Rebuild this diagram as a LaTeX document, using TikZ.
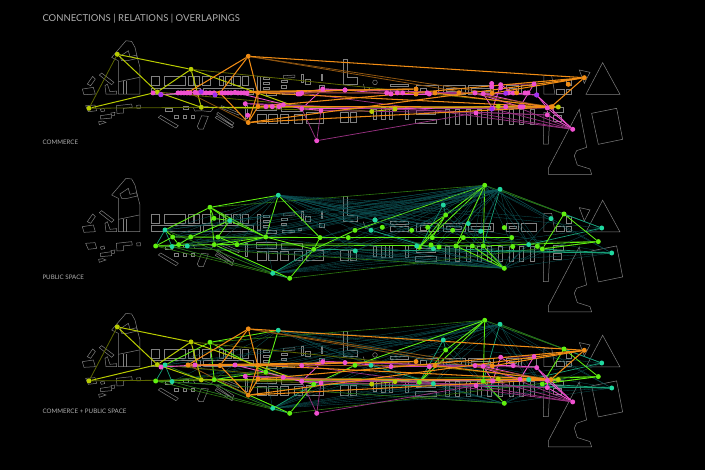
\documentclass[tikz,border=0pt]{standalone}
\usepackage{fontspec}
\setmainfont{Lato}
\usepackage{tikz}
\usetikzlibrary{backgrounds}
\definecolor{planc}{HTML}{808080}
\definecolor{labelc}{HTML}{B0B0B0}
\definecolor{limec}{HTML}{B9CC00}
\definecolor{limedim}{HTML}{5C6600}
\definecolor{orangec}{HTML}{F08C14}
\definecolor{orangedim}{HTML}{8F5510}
\definecolor{magentac}{HTML}{F050D0}
\definecolor{magentadim}{HTML}{96307F}
\definecolor{purplec}{HTML}{A030F0}
\definecolor{greenc}{HTML}{60F010}
\definecolor{greendim}{HTML}{2E7A10}
\definecolor{tealc}{HTML}{20D8A0}
\definecolor{meshc}{HTML}{0D5558}
\tikzset{
  every picture/.style={line join=round, line cap=round},
  planline/.style={draw=planc,line width=0.5pt},
  dotbase/.style={circle,inner sep=0pt,minimum size=5pt},
  limedot/.style={dotbase,fill=limec},
  orangedot/.style={dotbase,fill=orangec},
  magentadot/.style={dotbase,fill=magentac},
  purpledot/.style={dotbase,fill=purplec},
  greendot/.style={dotbase,fill=greenc},
  tealdot/.style={dotbase,fill=tealc},
  limeline/.style={draw=limec,line width=1pt},
  limefaint/.style={draw=limedim,line width=0.8pt},
  orangeline/.style={draw=orangec,line width=1.05pt},
  orangefaint/.style={draw=orangedim,line width=0.8pt},
  magentaline/.style={draw=magentac,line width=0.85pt},
  magentafaint/.style={draw=magentadim,line width=0.75pt},
  greenline/.style={draw=greenc,line width=0.85pt},
  greenfaint/.style={draw=greendim,line width=0.6pt},
  tealline/.style={draw=tealc!75!black,line width=0.7pt},
  meshline/.style={draw=meshc,line width=0.3pt},
  panellabel/.style={anchor=west,text=labelc,font=\fontsize{6.2}{7}\selectfont,inner sep=0pt},
}
\newcommand{\siteplan}{%
\begin{scope}[on background layer,shift={(20,32.4)},x=0.3333pt,y=-0.3333pt]
\draw[planline] (295,185)--(295,85)--(275,75)--(318,25)--(335,27)--(345,45)--(352,75)--(360,105)--(360,185)--cycle;
\draw[planline] (295,148)--(358,135);
\draw[planline] (310,185)--(310,147) (318,185)--(318,146);
\draw[planline] (300,72)--(325,55)--(330,73)--(350,68)--(352,78)--(322,85)--(305,85)--cycle;
\draw[planline] (202,155)--(218,132)--(226,140)--(212,160)--cycle;
\draw[planline] (187,170)--(220,165)--(226,185)--(192,187)--cycle;
\draw[planline] (238,128)--(245,122)--(282,150)--(275,157)--cycle;
\draw[planline] (255,160)--(262,155)--(270,178)--(290,176)--(290,185)--(258,185)--cycle;
\draw[planline] (197,220)--(225,218)--(230,235)--(205,238)--cycle;
\draw[planline] (241,231)--(252,228)--(254,236)--(244,238)--cycle;
\draw[planline] (241,250)--(275,245)--(275,257)--(242,260)--cycle (272,242)--(285,240)--(283,250)--(274,250);
\draw[planline] (236,268)--(248,266)--(258,270)--(246,274)--(238,277)--cycle;
\draw[planline] (289,220)--(335,215)--(337,225)--(310,228)--(310,242)--(291,243)--cycle;
\draw[planline] (350,219)--(361,218)--(361,228)--(351,228)--cycle;
\foreach \a/\b/\c/\d in {393/132/417/160,433/132/497/160,505/132/520/160,522/132/537/160,548/132/572/160,597/132/610/160,615/132/635/160,640/132/660/160,668/132/686/160,395/167/540/185,550/167/700/185,712/132/720/180,730/135/748/142,730/150/748/157,730/165/748/171,785/145/802/151,785/160/800/167,787/180/822/186,740/180/770/190,845/125/850/150,855/140/870/155,835/175/845/182,905/125/907/145,898/160/912/172,436/228/458/238,675/220/683/258,710/217/770/235,785/220/848/237,712/245/738/272,745/245/772/272,780/245/805/272,823/245/848/272,858/240/910/272,490/222/506/232,464/250/474/259,490/250/500/259,514/250/524/259}
  \draw[planline] (\a,\b) rectangle (\c,\d);
\draw[planline] (790,130)--(825,128)--(825,135)--(790,138)--cycle;
\draw[planline] (415,255)--(422,249)--(475,280)--(468,287)--cycle;
\draw[planline] (532,282)--(545,250)--(565,252)--(550,290)--(537,290)--cycle;
\draw[planline] (590,245)--(594,240)--(642,272)--(637,278)--cycle (586,256)--(590,251)--(640,282)--(636,287)--cycle;
\draw[planline] (605,220)--(660,243)--(656,248)--(602,226)--cycle;
\draw[planline] (520,226)--(560,222)--(580,228)--(572,238)--(545,235)--(525,236)--cycle;
\end{scope}
\begin{scope}[on background layer,shift={(340,32.4)},x=0.3333pt,y=-0.3333pt]
\draw[planline] (10,80)--(22,80)--(22,135)--(52,135)--(52,155)--(10,155)--cycle;
\draw[planline] (105,150) circle[radius=7];
\draw[planline] (70,155)--(76,175)--(90,168);
\foreach \a/\b/\c/\d in {150/155/205/162,150/170/205/185,228/160/295/185,240/167/260/180,310/160/375/185,320/168/365/178,385/160/460/185,395/168/450/178,500/160/535/185,508/168/528/176,545/160/590/185,650/170/672/185,680/140/695/160,680/170/695/185,0/240/25/270,30/240/50/270,100/230/110/260,125/225/135/262,148/225/158/262,195/225/205/262,225/260/290/273,230/235/285/247,640/225/670/240,640/250/665/268}
  \draw[planline] (\a,\b) rectangle (\c,\d);
\foreach \x in {315,347,379,411,443,475,507,539,571}
  \draw[planline] (\x,230) rectangle ++(12,45);
\draw[planline] (612,130)--(635,130)--(645,185)--(612,185)--cycle;
\draw[planline] (612,240)--(630,240)--(625,335)--(610,335)--cycle;
\end{scope}
\begin{scope}[on background layer,shift={(340,40)},x=0.3333pt,y=-0.3333pt]
\draw[planline] (788,68)--(840,163)--(738,163)--cycle;
\draw[planline] (718,90)--(750,97)--(733,130)--cycle;
\draw[planline] (718,208)--(740,322)--(710,332)--(703,347)--(712,375)--(750,387)--(755,403)--(625,403)--(625,385)--cycle;
\draw[planline] (755,220)--(830,205)--(848,298)--(775,313)--cycle;
\end{scope}}
\newcommand{\commercehubs}{%
\foreach \n/\x/\y in {l1/117.3/54.3,l2/191/69.3,l3/157.3/92,l4/89/108.3,l5/201.3/107.3,l6/371.7/111.5,l7/395/109,l8/498.3/106.4,l9/558.3/107}
  \node[limedot] (\n) at (\x,\y) {};
\foreach \n/\x/\y in {o1/248.3/56.3,o2/248.3/122.5,o3/257.7/92.7,o4/258/106.5,o5/188/92.4,o6/220/93,o7/584.3/77.7,o8/416/89,o9/435/93,o10/492.3/93.3,o11/551/107}
  \node[orangedot] (\n) at (\x,\y) {};
\foreach \n/\x/\y in {m1/161/94.5,m2/195/92.4,m3/235/92.4,m4/245.3/103.7,m5/283.3/104.7,m6/301.7/108.7,m7/301.7/93,m8/321/110.4,m9/316.7/140.7,m10/322.7/89,m11/345/90,m12/391/94,m13/429.3/94,m14/475/93,m15/483.3/93.7,m16/500.7/84.7,m17/513.3/93,m18/534/84,m19/536.7/95,m20/476/113,m21/492.7/108.4,m22/520/106.7,m23/547.3/108,m24/547.3/115,m25/572.7/129.3}
  \node[magentadot] (\n) at (\x,\y) {};
\begin{scope}[on background layer]
\foreach \a/\b in {l1/l4,l4/l5,l2/l9,l5/l6,l3/l6}
  \draw[limefaint] (\a)--(\b);
\foreach \a/\b in {l1/l3,l1/l2,l4/l3,l3/l2,l2/l5,l3/l5,l5/l9,l2/m6,l6/l7,l7/l8,l8/l9}
  \draw[limeline] (\a)--(\b);
\foreach \a/\b in {m1/m2,m2/m3,m3/m7,m7/m11,m11/m12,m12/m13,m13/m14,m14/m17,m17/m19,m4/m5,m5/m6,m6/m8,m6/m10,m7/m10,m10/m11,m3/m6,m15/m23,m15/m21,m16/m21,m25/m23,m25/m24,m25/m19,m23/m24,m19/m23,m16/m17,m18/m22,m14/m22,m6/m23,m10/m15}
  \draw[magentaline] (\a)--(\b);
\foreach \a/\b in {m6/m9,m8/m9,m9/m20,m25/m15,m25/m20,m25/m21,m5/m24,m8/m20,m3/m15,m11/m19,m4/m24,m7/m25,m16/m18}
  \draw[magentafaint] (\a)--(\b);
\foreach \a/\b in {o1/o10,o1/o11,o5/o2,o3/o9}
  \draw[orangefaint] (\a)--(\b);
\foreach \a/\b in {o1/o3,o1/o6,o1/o5,o1/o7,o5/o3,o6/o2,o3/o2,o3/o4,o4/o2,o2/o7,o2/o11,o4/o11,o6/o8,o5/o8,o9/o11,o10/o7,o11/o7,o4/o7,o3/o11}
  \draw[orangeline] (\a)--(\b);
\end{scope}}
\newcommand{\commerceextra}{%
\foreach \x [count=\i] in {153,178,181,184,187,190,198,203,206,210,214,222,225,228,231,238,241,244,247,386.7,397.3,402.7,427.3,508.3,525,528}
  \node[magentadot] (mr\i) at (\x,92.9) {};
\foreach \i/\x/\y in {1/272.3/106.7,2/300/94,3/247.7/115.3,4/491.7/86.7,5/491.7/83.5,6/500.7/88,7/505.7/106.7,8/345/90,9/298/94,10/266/106.7,11/279/106.7,12/523/106.7}
  \node[magentadot] (mx\i) at (\x,\y) {};
\foreach \i/\x/\y in {1/160.7/94.7,2/215/95,3/201/91.7,4/505.7/93.3,5/536.7/95,6/491.7/109}
  \node[purpledot] (px\i) at (\x,\y) {};
\foreach \i/\x/\y in {1/416/94,2/459/92.7,3/516.7/92.7,4/568.3/84.3,5/552.3/106.7}
  \node[orangedot] (ox\i) at (\x,\y) {};
}
\newcommand{\publichubs}{%
\foreach \n/\x/\y in {g1/210/69.7,g3/155.7/108.4,g8/214.3/107,g10/265.7/99.4,g12/313.7/111.7,g13/289.7/140.7,g14/484.7/47.7,g15/445.7/77.4,g16/564/76.4,g17/355/92.7,g29/483.3/108.4,g32/542.3/111.4,g33/598.3/104,g34/504.3/130.7,g35/419.3/109.7}
  \node[greendot] (\n) at (\x,\y) {};
\foreach \n/\x/\y in {t1/278.3/57.7,t3/165/92.4,t4/172/109,t6/272.7/135.7,t7/500/51.7,t8/443.3/67.4,t10/371/92.7,t14/601.7/90.4,t15/611.7/115.4,t17/528.7/107,t18/433.3/111}
  \node[tealdot] (\n) at (\x,\y) {};
\begin{scope}[on background layer]
\foreach \a in {t1,g14,t7,t6,g34}
  \foreach \b in {t3,t4,g8,g10,t10,g17,g35,t18,t8,g15,t17,g32,t14,t15}
    \draw[meshline] (\a)--(\b);
\foreach \a/\b in {g3/g34,g3/g13,g8/g13,g1/g14,t4/t6,t3/t6,g3/g10,g8/g33,g13/g33,g14/g16,t7/g16}
  \draw[greenfaint] (\a)--(\b);
\foreach \a/\b in {t6/g12,t6/g13,t3/t4,g3/t3,t7/g29,t8/g35,t14/t17,t15/g32,t15/t18,t14/g16,t8/g15,t10/t18,g12/t15}
  \draw[tealline] (\a)--(\b);
\foreach \a/\b in {g1/t3,g1/t1,g1/g8,g3/g8,g8/g10,g10/g12,g10/g1,t1/g10,g8/g13,g12/g13,g14/g17,g14/g35,g14/g29,g29/g34,g14/g15,g15/g35,g16/g32,g16/g33,g33/g32,g17/g12,g8/g29,g29/g33}
  \draw[greenline] (\a)--(\b);
\end{scope}}
\newcommand{\publicextra}{%
\foreach \n/\x/\y in {g2/214/80.7,g4/172.7/99.4,g5/178.7/107,g6/190.7/99.4,g7/218/99.4,g9/237/107,g11/320/100,g18/348.3/100,g19/382.3/89.7,g20/411.7/92.7,g21/427.7/89.7,g22/452.7/92.7,g23/504.3/90,g24/432.3/100,g25/463.3/100,g26/511.7/100,g27/456/108.4,g28/472.3/108.4,g30/512.7/109,g31/537.3/108.7,g36/439/109.4,g37/431/107.4}
  \node[greendot] (\n) at (\x,\y) {};
\foreach \n/\x/\y in {t2/229.7/83,t5/187.3/108.4,t9/375/82.4,t11/468.3/86,t12/480.7/93.7,t13/551/81,t16/355.3/113.4,t19/416.7/108.4}
  \node[tealdot] (\n) at (\x,\y) {};
\begin{scope}[on background layer]
\foreach \a in {t1,g14,t7,g34}
  \foreach \b in {g4,t5,t2,g9,g11,t9,t16,g20,g22,t11,t12,t13,g28,g30}
    \draw[meshline] (\a)--(\b);
\foreach \a/\b in {t3/g4,g3/g4,g4/g5,g5/g6,g6/t2,t2/g7,g7/g9,t2/g10,g1/t2,g1/g2,g2/t2,g9/g10,g11/g12,t1/g11,g4/g18,g18/g26,g15/g24,g15/g21,g21/g24,g24/g25,g25/g26,g14/g27,g27/g25,g27/g34,g31/g32,g28/g34}
  \draw[greenline] (\a)--(\b);
\end{scope}}
\begin{document}
\begin{tikzpicture}[x=1pt,y=-1pt]
\useasboundingbox (0,0) rectangle (705,470);
\begin{scope}[on background layer]
\fill[black] (0,0) rectangle (705,470);
\end{scope}
\node[anchor=west,text=labelc,font=\fontsize{9.5}{12}\selectfont,inner sep=0pt] (title) at (42.3,19) {CONNECTIONS | RELATIONS | OVERLAPINGS};
\node[panellabel] (lbltop) at (42.3,142.5) {COMMERCE};
\node[panellabel] (lblmid) at (42.3,277.3) {PUBLIC SPACE};
\node[panellabel] (lblbot) at (42.3,411.7) {COMMERCE + PUBLIC SPACE};
\begin{scope}[name prefix=top-]
\siteplan
\commercehubs
\commerceextra
\end{scope}
\begin{scope}[yshift=-137.6pt,name prefix=mid-]
\siteplan
\publichubs
\publicextra
\end{scope}
\begin{scope}[yshift=-272.6pt,name prefix=bot-]
\siteplan
\publichubs
\commercehubs
\end{scope}
\end{tikzpicture}
\end{document}
